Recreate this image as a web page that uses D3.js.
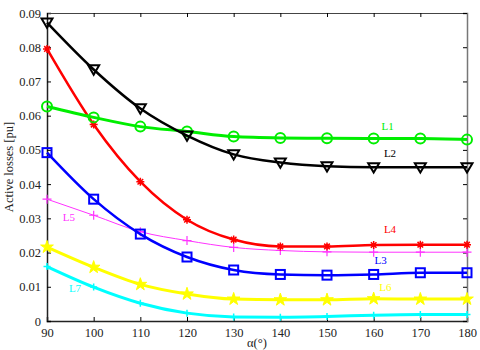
<!DOCTYPE html>
<html>
<head>
<meta charset="utf-8">
<script src="https://cdn.jsdelivr.net/npm/d3@7"></script>
<style>
  body { margin: 0; background: #fff; }
  svg text { font-family: "Liberation Serif", "DejaVu Serif", serif; }
</style>
</head>
<body>
<div id="chart"></div>
<script>
var angles = [90, 100, 110, 120, 130, 140, 150, 160, 170, 180];
var xTicks = [90, 100, 110, 120, 130, 140, 150, 160, 170, 180];
var yTicks = [0, 0.01, 0.02, 0.03, 0.04, 0.05, 0.06, 0.07, 0.08, 0.09];

var L1 = [0.0627, 0.0595, 0.0568, 0.0554, 0.0539, 0.0535, 0.0534, 0.0533, 0.0533, 0.053];
var L2 = [0.0872, 0.0735, 0.0621, 0.0542, 0.0487, 0.0463, 0.0452, 0.0449, 0.0449, 0.0449];
var L3 = [0.0492, 0.0356, 0.0254, 0.0187, 0.0149, 0.0136, 0.0134, 0.0136, 0.0141, 0.0141];
var L4 = [0.0795, 0.0574, 0.0407, 0.0296, 0.0238, 0.0218, 0.0218, 0.0222, 0.0223, 0.0223];
var L5 = [0.0356, 0.0309, 0.0261, 0.0235, 0.0215, 0.0206, 0.0202, 0.0201, 0.0201, 0.0201];
var L6 = [0.0216, 0.0157, 0.0107, 0.0079, 0.0064, 0.0062, 0.0062, 0.0065, 0.0064, 0.0064];
var L7 = [0.0159, 0.0099, 0.0052, 0.0023, 0.0012, 0.0011, 0.0013, 0.0017, 0.0019, 0.0019];

var width = 480, height = 350;
var margin = {left: 47, right: 13, top: 13, bottom: 29};

var svg = d3.select('#chart')
  .append('svg')
  .attr('width', width)
  .attr('height', height);

var x = d3.scaleLinear().domain([90, 180]).range([margin.left, width - margin.right]);
var y = d3.scaleLinear().domain([0, 0.09]).range([height - margin.bottom, margin.top]);

// axes with inward ticks
var fmt = function(d){ return d === 0 ? '0' : d3.format('.2f')(d); };

svg.append('g')
  .attr('transform', 'translate(0,' + y(0) + ')')
  .call(d3.axisBottom(x).tickValues(xTicks).tickSize(-4).tickPadding(7))
  .call(function(g){
    g.select('.domain').attr('stroke', '#222').attr('stroke-width', 1.5);
    g.selectAll('text').attr('font-size', 12.5).attr('fill', '#222');
  });

svg.append('g')
  .attr('transform', 'translate(' + x(90) + ',0)')
  .call(d3.axisLeft(y).tickValues(yTicks).tickSize(-4).tickPadding(6).tickFormat(fmt))
  .call(function(g){
    g.select('.domain').attr('stroke', '#222').attr('stroke-width', 1.5);
    g.selectAll('text').attr('font-size', 12.5).attr('fill', '#222');
  });

svg.append('g')
  .attr('transform', 'translate(0,' + y(0.09) + ')')
  .call(d3.axisTop(x).tickValues(xTicks).tickSize(-4).tickFormat(''))
  .call(function(g){ g.select('.domain').attr('stroke', '#444'); });

svg.append('g')
  .attr('transform', 'translate(' + x(180) + ',0)')
  .call(d3.axisRight(y).tickValues(yTicks).tickSize(-4).tickFormat(''))
  .call(function(g){ g.select('.domain').attr('stroke', '#777').attr('stroke-width', 1.5); });

// axis titles
svg.append('text')
  .attr('x', 257).attr('y', 347)
  .attr('text-anchor', 'middle')
  .attr('font-size', 12.5)
  .attr('fill', '#222')
  .text('α(°)');

svg.append('text')
  .attr('transform', 'translate(13,' + y(0.045) + ') rotate(-90)')
  .attr('text-anchor', 'middle')
  .attr('font-size', 12.5)
  .attr('fill', '#222')
  .text('Active losses [pu]');

// markers
function plusPath(s){ return 'M' + (-s) + ',0H' + s + 'M0,' + (-s) + 'V' + s; }
function starburstPath(s){
  var k = s * 0.7;
  return plusPath(s) + 'M' + (-k) + ',' + (-k) + 'L' + k + ',' + k + 'M' + (-k) + ',' + k + 'L' + k + ',' + (-k);
}

var series = [
  {name: 'L7', values: L7, color: '#00ffff', width: 3, marker: 'plus', size: 3.5, mw: 1.5},
  {name: 'L6', values: L6, color: '#ffff00', width: 3, marker: 'star', size: 50, mw: 1},
  {name: 'L5', values: L5, color: '#ff33ff', width: 1, marker: 'plus', size: 4.5, mw: 1.2},
  {name: 'L3', values: L3, color: '#0000ff', width: 2.5, marker: 'square', size: 4.5, mw: 2},
  {name: 'L4', values: L4, color: '#ff0000', width: 2.5, marker: 'burst', size: 4, mw: 1.5},
  {name: 'L1', values: L1, color: '#00ee00', width: 3, marker: 'circle', size: 5, mw: 2},
  {name: 'L2', values: L2, color: '#000000', width: 2.5, marker: 'triangle', size: 5.5, mw: 2}
];

var line = d3.line()
  .x(function(d){ return x(d[0]); })
  .y(function(d){ return y(d[1]); })
  .curve(d3.curveMonotoneX);

series.forEach(function(s){
  var pts = angles.map(function(a, i){ return [a, s.values[i]]; });
  var g = svg.append('g');
  g.append('path')
    .attr('d', line(pts))
    .attr('fill', 'none')
    .attr('stroke', s.color)
    .attr('stroke-width', s.width);

  var m = g.selectAll('.m').data(pts).enter();
  if (s.marker === 'circle') {
    m.append('circle')
      .attr('cx', function(d){ return x(d[0]); })
      .attr('cy', function(d){ return y(d[1]); })
      .attr('r', s.size)
      .attr('fill', 'none')
      .attr('stroke', s.color)
      .attr('stroke-width', s.mw);
  } else if (s.marker === 'square') {
    m.append('rect')
      .attr('x', function(d){ return x(d[0]) - s.size; })
      .attr('y', function(d){ return y(d[1]) - s.size; })
      .attr('width', s.size * 2)
      .attr('height', s.size * 2)
      .attr('fill', 'none')
      .attr('stroke', s.color)
      .attr('stroke-width', s.mw);
  } else if (s.marker === 'triangle') {
    var t = s.size;
    m.append('path')
      .attr('transform', function(d){ return 'translate(' + x(d[0]) + ',' + y(d[1]) + ')'; })
      .attr('d', 'M' + (-t) + ',' + (-t * 0.75) + 'L' + t + ',' + (-t * 0.75) + 'L0,' + (t * 0.95) + 'Z')
      .attr('fill', 'none')
      .attr('stroke', s.color)
      .attr('stroke-width', s.mw);
  } else if (s.marker === 'star') {
    m.append('path')
      .attr('transform', function(d){ return 'translate(' + x(d[0]) + ',' + y(d[1]) + ')'; })
      .attr('d', d3.symbol().type(d3.symbolStar).size(s.size)())
      .attr('fill', s.color)
      .attr('stroke', s.color)
      .attr('stroke-width', s.mw);
  } else {
    m.append('path')
      .attr('transform', function(d){ return 'translate(' + x(d[0]) + ',' + y(d[1]) + ')'; })
      .attr('d', s.marker === 'burst' ? starburstPath(s.size) : plusPath(s.size))
      .attr('fill', 'none')
      .attr('stroke', s.color)
      .attr('stroke-width', s.mw);
  }
});

// line labels
var labels = [
  {name: 'L1', at: [163, 0.0557], color: '#00ee00'},
  {name: 'L2', at: [163.5, 0.0478], color: '#000000'},
  {name: 'L4', at: [163.5, 0.0256], color: '#ff0000'},
  {name: 'L3', at: [161.5, 0.0168], color: '#0000ff'},
  {name: 'L6', at: [162.5, 0.0089], color: '#ffff00'},
  {name: 'L5', at: [94.7, 0.0293], color: '#ff33ff'},
  {name: 'L7', at: [96, 0.0085], color: '#00ffff'}
];

svg.selectAll('.lbl')
  .data(labels)
  .enter()
  .append('text')
  .attr('x', function(d){ return x(d.at[0]); })
  .attr('y', function(d){ return y(d.at[1]); })
  .attr('text-anchor', 'middle')
  .attr('font-size', 11)
  .attr('fill', function(d){ return d.color; })
  .text(function(d){ return d.name; });
</script>
</body>
</html>
